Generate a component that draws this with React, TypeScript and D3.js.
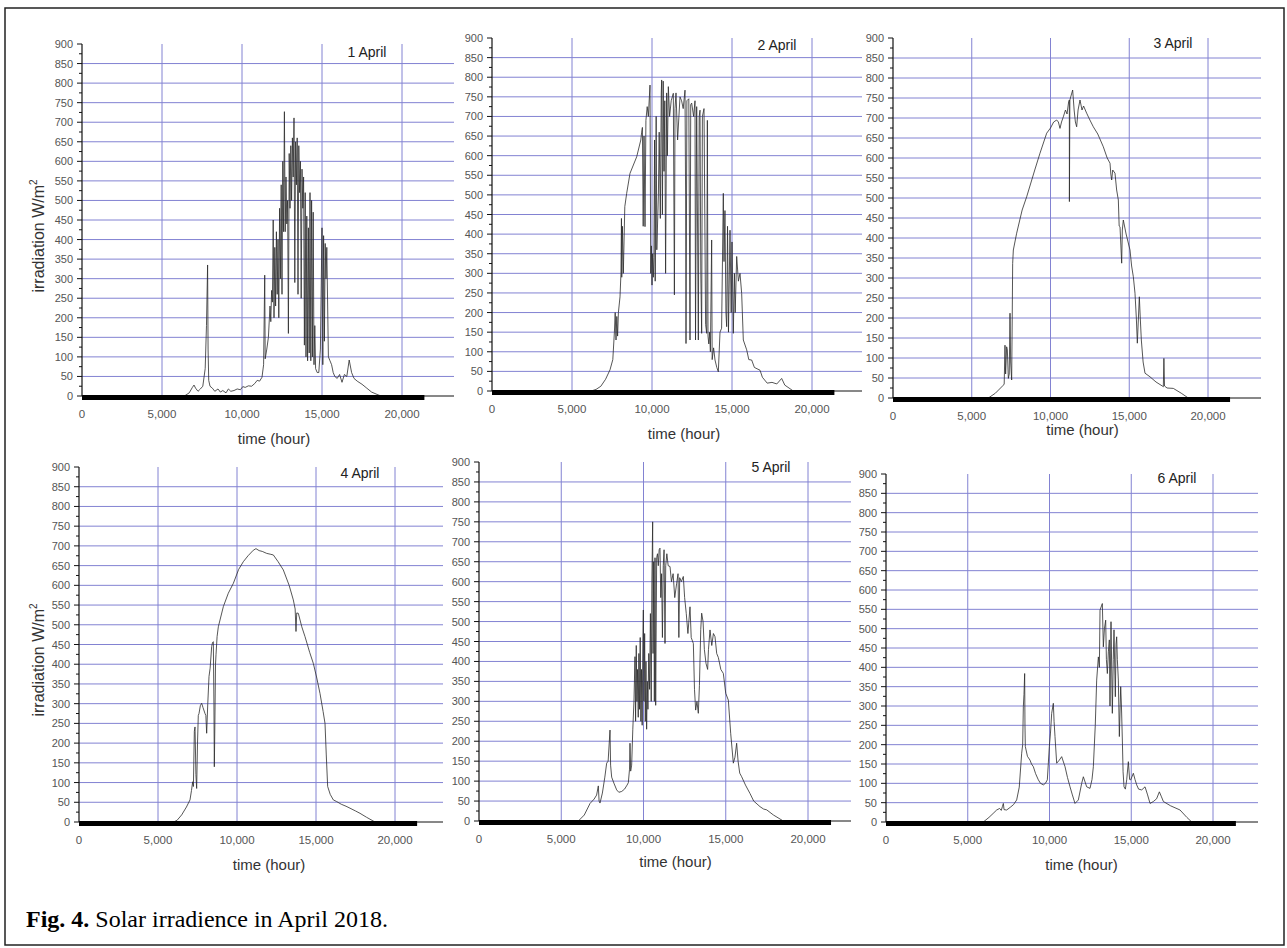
import React from "react";
import * as d3 from "d3";

type Pt = [number, number];

const X_TICKS = [0, 5000, 10000, 15000, 20000];
const Y_MAJOR = [0, 50, 100, 150, 200, 250, 300, 350, 400, 450, 500, 550, 600, 650, 700, 750, 800, 850, 900];
const Y_MINOR = [25, 75, 125, 175, 225, 275, 325, 375, 425, 475, 525, 575, 625, 675, 725, 775, 825, 875];
const Y_GRID = [50, 100, 150, 200, 250, 300, 350, 400, 450, 500, 550, 600, 650, 700, 750, 800, 850];
const ZERO_BAR_END = 21400;

const DAY_LABELS = ["1 April", "2 April", "3 April", "4 April", "5 April", "6 April"];
const X_TITLE = "time (hour)";
const Y_TITLE = "irradiation W/m";
const CAPTION_BOLD = "Fig. 4.";
const CAPTION_TEXT = " Solar irradience in April 2018.";

const april1: Pt[] = [
  [0, 0], [6400, 0], [6700, 8], [6900, 22], [7000, 28], [7100, 20], [7250, 12], [7400, 18], [7550, 25],
  [7700, 70], [7780, 180], [7850, 335], [7880, 120], [7920, 40], [8000, 25], [8150, 20], [8300, 12],
  [8500, 18], [8650, 10], [8800, 14], [9000, 8], [9150, 18], [9300, 12], [9500, 14], [9700, 18],
  [9900, 16], [10050, 24], [10200, 22], [10400, 26], [10600, 25], [10800, 32], [10950, 40], [11100, 38],
  [11250, 48], [11350, 80], [11420, 309], [11450, 95], [11550, 120], [11650, 150], [11750, 230],
  [11800, 190], [11850, 270], [11900, 240], [11950, 450], [12000, 200], [12050, 380], [12100, 230],
  [12150, 420], [12200, 260], [12250, 400], [12300, 200], [12350, 480], [12400, 300], [12450, 540],
  [12500, 260], [12550, 600], [12600, 420], [12650, 727], [12700, 420], [12750, 560], [12800, 440],
  [12850, 500], [12900, 160], [12950, 620], [13000, 480], [13050, 640], [13100, 500], [13150, 660],
  [13200, 560], [13250, 711], [13300, 290], [13350, 650], [13400, 540], [13450, 660], [13500, 260],
  [13550, 640], [13600, 520], [13650, 600], [13700, 250], [13750, 580], [13800, 480], [13850, 560],
  [13900, 130], [13950, 520], [14000, 100], [14050, 460], [14100, 90], [14150, 430], [14200, 110],
  [14250, 520], [14300, 90], [14350, 500], [14400, 100], [14450, 470], [14500, 80], [14550, 180],
  [14600, 70], [14700, 60], [14800, 60], [14900, 120], [15000, 430], [15050, 80], [15100, 410],
  [15150, 140], [15200, 390], [15250, 300], [15300, 380], [15400, 100], [15500, 90], [15600, 80],
  [15700, 60], [15800, 50], [15950, 45], [16100, 55], [16250, 35], [16400, 55], [16550, 50],
  [16700, 92], [16850, 60], [17000, 45], [17200, 38], [17500, 30], [17800, 20], [18100, 10],
  [18500, 3], [18700, 0],
];

const april2: Pt[] = [
  [0, 0], [6200, 0], [6500, 4], [6800, 12], [7100, 30], [7375, 54], [7550, 80], [7650, 150], [7700, 200],
  [7750, 130], [7800, 190], [7850, 140], [7900, 200], [8000, 240], [8060, 300], [8090, 440], [8110, 290],
  [8150, 420], [8208, 300], [8300, 470], [8417, 504], [8625, 555], [9042, 597], [9300, 640], [9354, 660],
  [9400, 672], [9450, 420], [9500, 650], [9563, 419], [9620, 690], [9700, 725], [9771, 700], [9875, 780],
  [9920, 300], [9960, 370], [10000, 270], [10040, 350], [10083, 290], [10120, 340], [10160, 640],
  [10200, 280], [10260, 700], [10300, 360], [10400, 500], [10450, 660], [10520, 440], [10580, 760],
  [10604, 793], [10650, 450], [10700, 790], [10750, 560], [10800, 740], [10850, 300], [10917, 760],
  [10960, 600], [11021, 776], [11100, 700], [11200, 740], [11333, 759], [11400, 245], [11437, 720],
  [11500, 760], [11600, 640], [11750, 750], [11850, 740], [11950, 720], [12063, 767], [12100, 500],
  [12125, 121], [12180, 740], [12300, 745], [12375, 130], [12420, 730], [12479, 734], [12600, 700],
  [12688, 740], [12720, 130], [12792, 725], [12850, 400], [12896, 130], [12950, 700], [13000, 716],
  [13050, 300], [13104, 147], [13150, 700], [13250, 720], [13300, 450], [13350, 170], [13417, 147],
  [13460, 690], [13500, 140], [13550, 120], [13600, 150], [13650, 100], [13729, 385], [13760, 80],
  [13850, 110], [13938, 79], [14050, 60], [14146, 49], [14250, 150], [14350, 160], [14458, 504],
  [14500, 330], [14560, 460], [14620, 200], [14667, 164], [14720, 420], [14780, 150], [14875, 410],
  [14950, 200], [15000, 380], [15083, 147], [15150, 300], [15200, 200], [15292, 343], [15400, 280],
  [15500, 300], [15604, 249], [15708, 130], [15917, 105], [16050, 80], [16229, 79], [16400, 60],
  [16750, 53], [16900, 35], [17200, 20], [17500, 22], [17800, 18], [18104, 32], [18300, 15], [18833, 0],
];

const april3: Pt[] = [
  [0, 0], [6053, 0], [6500, 12], [7005, 32], [7060, 35], [7111, 132], [7150, 60], [7217, 128], [7260, 120],
  [7323, 49], [7380, 60], [7429, 212], [7470, 90], [7534, 45], [7570, 200], [7598, 336], [7640, 370],
  [7852, 412], [8200, 470], [8487, 503], [9000, 570], [9333, 612], [9757, 662], [10000, 675], [10200, 690],
  [10392, 695], [10500, 690], [10603, 674], [10700, 690], [10815, 703], [10950, 720], [11050, 710],
  [11150, 740], [11196, 745], [11200, 491], [11230, 745], [11300, 755], [11407, 770], [11500, 720],
  [11580, 690], [11661, 678], [11750, 720], [11873, 745], [12000, 720], [12100, 730], [12296, 712],
  [12500, 695], [12719, 678], [13000, 660], [13354, 628], [13600, 600], [13778, 587], [13830, 560],
  [13884, 545], [13950, 570], [14095, 562], [14200, 520], [14307, 495], [14360, 430], [14413, 428],
  [14470, 380], [14519, 337], [14560, 420], [14624, 445], [14800, 410], [15048, 370], [15150, 330],
  [15259, 303], [15365, 262], [15450, 200], [15513, 137], [15560, 180], [15640, 253], [15700, 200],
  [15767, 145], [15880, 90], [16000, 62], [16317, 53], [16700, 40], [17100, 30], [17164, 28],
  [17200, 99], [17240, 30], [17400, 25], [17799, 24], [18300, 12], [18751, 0],
];

const april4: Pt[] = [
  [0, 0], [5970, 0], [6200, 4], [6498, 18], [6800, 38], [7025, 56], [7120, 80], [7194, 102], [7240, 90],
  [7300, 230], [7342, 241], [7400, 120], [7447, 85], [7500, 200], [7550, 270], [7595, 275], [7680, 295],
  [7764, 301], [7850, 290], [7975, 275], [8030, 270], [8080, 225], [8150, 300], [8228, 369], [8300, 390],
  [8397, 445], [8450, 455], [8502, 457], [8540, 300], [8565, 140], [8600, 250], [8640, 400], [8671, 424],
  [8740, 470], [8819, 495], [9135, 546], [9450, 580], [9768, 605], [10100, 640], [10401, 660],
  [10700, 675], [11034, 689], [11200, 693], [11400, 688], [11600, 686], [11878, 681], [12100, 679],
  [12300, 677], [12600, 660], [12932, 639], [13300, 600], [13565, 563], [13680, 540], [13734, 483],
  [13780, 530], [13882, 529], [14100, 495], [14304, 470], [14600, 430], [14831, 402], [15050, 365],
  [15253, 326], [15450, 280], [15570, 250], [15650, 170], [15738, 90], [15900, 70], [16097, 56],
  [16300, 52], [16600, 45], [16900, 40], [17152, 35], [17500, 28], [17785, 22], [18200, 12], [18734, 0],
];

const april5: Pt[] = [
  [0, 0], [6040, 0], [6400, 15], [6750, 44], [7000, 55], [7150, 65], [7254, 88], [7300, 50], [7356, 45],
  [7500, 70], [7650, 110], [7761, 145], [7850, 150], [7964, 228], [8000, 140], [8065, 110], [8200, 95],
  [8369, 78], [8500, 72], [8673, 74], [8850, 80], [9000, 90], [9078, 96], [9150, 130], [9179, 195],
  [9220, 125], [9280, 140], [9350, 230], [9420, 300], [9483, 412], [9520, 250], [9560, 440], [9600, 300],
  [9640, 380], [9680, 260], [9720, 420], [9760, 280], [9800, 460], [9840, 250], [9880, 380], [9920, 240],
  [9960, 450], [9990, 529], [10030, 300], [10070, 470], [10110, 250], [10150, 400], [10190, 230],
  [10230, 350], [10270, 280], [10320, 420], [10370, 330], [10420, 520], [10470, 300], [10510, 600],
  [10557, 750], [10580, 420], [10620, 650], [10660, 300], [10700, 660], [10740, 290], [10800, 660],
  [10850, 670], [10900, 640], [10950, 680], [11003, 684], [11050, 560], [11100, 620], [11150, 460],
  [11200, 640], [11250, 680], [11307, 445], [11350, 640], [11420, 670], [11500, 640], [11611, 638],
  [11700, 600], [11800, 620], [11900, 560], [12016, 596], [12100, 620], [12150, 460], [12200, 610],
  [12300, 600], [12421, 613], [12500, 560], [12600, 520], [12700, 470], [12827, 537], [12900, 460],
  [13030, 445], [13100, 330], [13171, 278], [13250, 300], [13333, 270], [13400, 340], [13480, 480],
  [13536, 521], [13620, 500], [13700, 430], [13800, 395], [13900, 380], [13950, 430], [14043, 479],
  [14150, 440], [14250, 470], [14347, 462], [14450, 420], [14549, 410], [14700, 380], [14852, 370],
  [15000, 320], [15157, 303], [15300, 220], [15461, 145], [15560, 160], [15663, 195], [15750, 150],
  [15850, 120], [15967, 111], [16200, 90], [16474, 69], [16700, 50], [17082, 36], [17300, 30],
  [17487, 28], [17900, 15], [18500, 0],
];

const april6: Pt[] = [
  [0, 0], [5952, 0], [6300, 12], [6550, 22], [6769, 31], [6950, 35], [7050, 30], [7120, 40], [7177, 48],
  [7220, 32], [7380, 31], [7600, 38], [7800, 45], [7992, 57], [8150, 90], [8298, 178], [8360, 200],
  [8400, 298], [8440, 330], [8481, 384], [8500, 250], [8522, 195], [8650, 170], [8808, 160], [8900, 150],
  [9012, 143], [9150, 125], [9318, 109], [9450, 100], [9624, 96], [9750, 100], [9868, 109], [9990, 195],
  [10060, 230], [10133, 281], [10235, 307], [10280, 260], [10337, 221], [10439, 152], [10600, 160],
  [10745, 169], [10949, 143], [11100, 115], [11255, 91], [11400, 70], [11560, 48], [11764, 57],
  [11968, 100], [12070, 117], [12274, 91], [12478, 87], [12600, 110], [12682, 143], [12800, 250],
  [12886, 367], [12988, 427], [13050, 400], [13090, 548], [13232, 565], [13293, 453], [13360, 500],
  [13436, 522], [13480, 420], [13538, 384], [13600, 440], [13660, 471], [13700, 300], [13762, 518],
  [13843, 281], [13900, 420], [13945, 497], [14000, 380], [14027, 324], [14070, 460], [14109, 479],
  [14150, 420], [14211, 367], [14240, 300], [14272, 221], [14354, 350], [14400, 300], [14456, 212],
  [14500, 130], [14558, 91], [14640, 85], [14721, 109], [14823, 156], [14900, 110], [14966, 109],
  [15129, 126], [15230, 110], [15333, 96], [15450, 85], [15639, 83], [15843, 91], [16000, 70],
  [16149, 48], [16353, 53], [16550, 60], [16720, 78], [16850, 65], [16965, 53], [17400, 42],
  [17984, 31], [18400, 12], [18700, 0],
];

const SERIES = [april1, april2, april3, april4, april5, april6];

// pixel layout of each panel
const LAYOUT = [
  { x0: 82, x20: 402, y900: 44, y0: 396, right: 454, tX: 367, tY: 57, lY: 444, yl: true, ylY: 236 },
  { x0: 492, x20: 812, y900: 38, y0: 391, right: 862, tX: 777, tY: 50, lY: 439, yl: false, ylY: 0 },
  { x0: 893, x20: 1208, y900: 38, y0: 398, right: 1261, tX: 1173, tY: 48, lY: 435, yl: false, ylY: 0 },
  { x0: 79, x20: 395, y900: 467, y0: 822, right: 443, tX: 360, tY: 478, lY: 870, yl: true, ylY: 660 },
  { x0: 479, x20: 808, y900: 462, y0: 821, right: 851, tX: 771, tY: 472, lY: 867, yl: false, ylY: 0 },
  { x0: 886, x20: 1213, y900: 474, y0: 822, right: 1258, tX: 1177, tY: 483, lY: 870, yl: false, ylY: 0 },
];

const SANS = "'Liberation Sans', Arial, Helvetica, sans-serif";
const SERIF = "'Liberation Serif', 'Times New Roman', Times, serif";
const GRID = "#8282d2";
const fmt = d3.format(",");

function Panel({ idx }: { idx: number }) {
  const L = LAYOUT[idx];
  const data = SERIES[idx];
  const xs = d3.scaleLinear().domain([0, 20000]).range([L.x0, L.x20]);
  const ys = d3.scaleLinear().domain([0, 900]).range([L.y0, L.y900]);
  const xEnd = xs.invert(L.right);
  const line = d3
    .line<Pt>()
    .x((d) => xs(d[0]))
    .y((d) => ys(d[1]));
  const mid = (xs(0) + xs(20000)) / 2 + 32;
  return (
    <g>
      {Y_GRID.map((v) => (
        <line key={"h" + v} x1={xs(0)} x2={xs(xEnd)} y1={ys(v)} y2={ys(v)} stroke={GRID} strokeWidth={1} />
      ))}
      {X_TICKS.filter((t) => t > 0).map((t) => (
        <line key={"v" + t} x1={xs(t)} x2={xs(t)} y1={ys(900)} y2={ys(0)} stroke={GRID} strokeWidth={1} />
      ))}
      <path d={line(data) || ""} fill="none" stroke="#2b2b2b" strokeWidth={0.8} strokeLinejoin="round" />
      <line x1={xs(0)} x2={xs(xEnd)} y1={ys(0)} y2={ys(0)} stroke="#111" strokeWidth={1} />
      <rect x={xs(0)} y={ys(0) - 1} width={xs(ZERO_BAR_END) - xs(0)} height={5} fill="#000" />
      <line x1={xs(0)} x2={xs(0)} y1={ys(900)} y2={ys(0)} stroke="#111" strokeWidth={1.2} />
      {Y_MAJOR.map((v) => (
        <line key={"mj" + v} x1={xs(0) - 5} x2={xs(0)} y1={ys(v)} y2={ys(v)} stroke="#111" strokeWidth={1} />
      ))}
      {Y_MINOR.map((v) => (
        <line key={"mn" + v} x1={xs(0) - 3} x2={xs(0)} y1={ys(v)} y2={ys(v)} stroke="#111" strokeWidth={1} />
      ))}
      {Y_MAJOR.map((v) => (
        <text key={"yl" + v} x={xs(0) - 9} y={ys(v) + 4} textAnchor="end" fontSize={11} fill="#555" fontFamily={SANS}>
          {v}
        </text>
      ))}
      {X_TICKS.map((t) => (
        <text key={"xl" + t} x={xs(t)} y={ys(0) + 22} textAnchor="middle" fontSize={11.5} fill="#555" fontFamily={SANS}>
          {fmt(t)}
        </text>
      ))}
      <text x={mid} y={L.lY} textAnchor="middle" fontSize={15} fill="#333" fontFamily={SANS}>
        {X_TITLE}
      </text>
      <text x={L.tX} y={L.tY} textAnchor="middle" fontSize={14} fill="#222" fontFamily={SANS}>
        {DAY_LABELS[idx]}
      </text>
      {L.yl && (
        <text
          transform={`translate(44,${L.ylY}) rotate(-90)`}
          textAnchor="middle"
          fontSize={16}
          fill="#333"
          fontFamily={SANS}
        >
          {Y_TITLE}
          <tspan dy={-7} fontSize={10}>
            2
          </tspan>
        </text>
      )}
    </g>
  );
}

export default function App() {
  return (
    <svg
      width={1287}
      height={948}
      style={{ position: "absolute", left: 0, top: 0, background: "#fff" }}
      xmlns="http://www.w3.org/2000/svg"
    >
      <rect x={0} y={0} width={1287} height={948} fill="#fff" />
      <rect x={5} y={8} width={1279} height={937} fill="none" stroke="#222" strokeWidth={1.5} />
      {SERIES.map((_, i) => (
        <Panel key={i} idx={i} />
      ))}
      <text x={26} y={927} fontSize={24} fill="#000" fontFamily={SERIF}>
        <tspan fontWeight="bold">{CAPTION_BOLD}</tspan>
        <tspan>{CAPTION_TEXT}</tspan>
      </text>
    </svg>
  );
}
